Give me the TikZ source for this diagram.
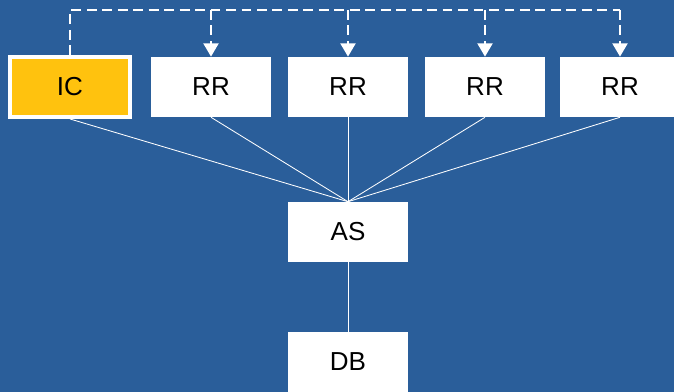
\documentclass[tikz,border=0pt]{standalone}
\usepackage{fontspec}
\setmainfont{Liberation Sans}
\usepackage{tikz}
\usetikzlibrary{positioning,arrows.meta}

\definecolor{bgblue}{RGB}{42,94,154}
\definecolor{icyellow}{RGB}{255,194,14}

\tikzset{
  box/.style={fill=white, minimum width=3cm, minimum height=1.5cm, inner sep=0pt, font=\fontsize{18.5}{20}\selectfont},
  link/.style={white, line width=0.6pt},
  ctrl/.style={white, line width=2pt, dash pattern=on 7pt off 4pt},
}

\begin{document}
\begin{tikzpicture}[x=0.025cm, y=-0.025cm]
			\fill[bgblue] (0,0) rectangle (674,392);
			\useasboundingbox (0,0) rectangle (674,392);
				\node [box, fill=icyellow, draw=white, line width=2.8pt] (ic) at (70,87) {IC};
				\node [box] (rr1) at (211,87) {RR};
				\node [box] (rr2) at (348,87) {RR};
				\node [box] (rr3) at (485,87) {RR};
				\node [box] (rr4) at (620,87) {RR};
				\node [box] (as) at (348,232) {AS};
				\node [box] (db) at (348,362) {DB};
				%
				\foreach \n in {ic,rr1,rr2,rr3,rr4}
					\draw [link] (\n.south) -- (as.north);
				\draw [link] (as.south) -- (db.north);
				%
				\coordinate (top) at (70,10);
				\draw [ctrl] (ic.north) -- (top) -- (top -| rr4.north);
				\foreach \n in {rr1,rr2,rr3,rr4}
					\draw [ctrl, -{Triangle[width=10.5pt,length=9.5pt]}] (top -| \n.north) -- (\n.north);
		\end{tikzpicture}
\end{document}
